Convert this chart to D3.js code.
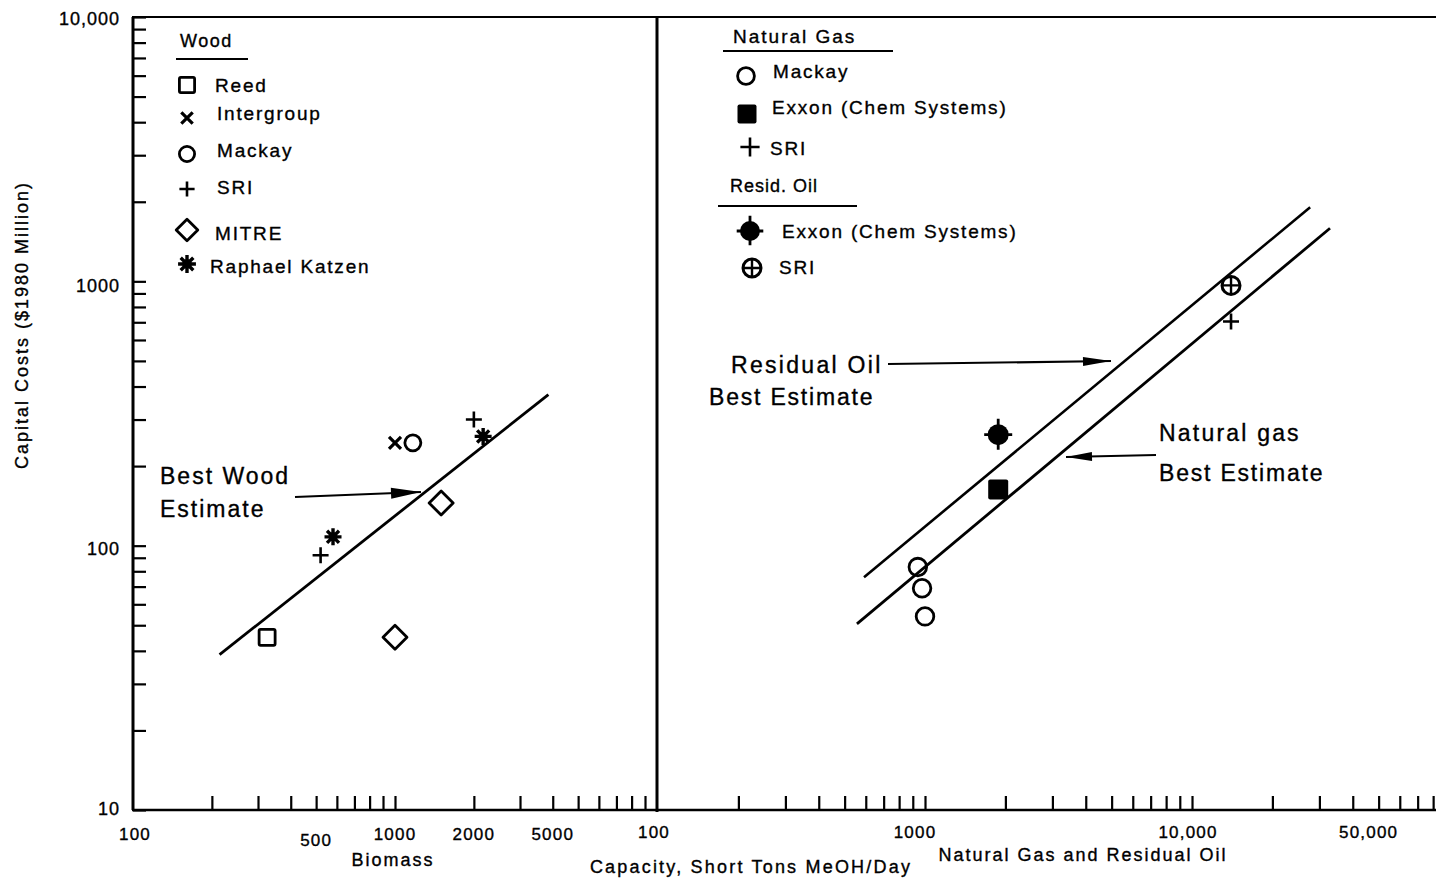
<!DOCTYPE html>
<html><head><meta charset="utf-8">
<script src="https://cdn.jsdelivr.net/npm/d3@7"></script>
<style>
body{margin:0;background:#fff}
text{font-family:"Liberation Sans",Arial,sans-serif;fill:#000;stroke:#000;stroke-width:0.35px}
</style>
</head><body>
<svg id="c" width="1436" height="881"></svg>
<script>
// ---------- data ----------
const yTickValues = [10, 100, 1000, 10000];
const yTickLabels = ["10", "100", "1000", "10,000"];
const biomassLabelValues = [100, 500, 1000, 2000, 4000];
const biomassLabels = ["100", "500", "1000", "2000", "5000"];
const gasLabelValues = [100, 1000, 10000, 50000];
const gasLabels = ["100", "1000", "10,000", "50,000"];

// Wood (biomass) estimates: [capacity, capital cost]
const woodReed = [[325, 45]];
const woodIntergroup = [[1000, 245]];
const woodMackay = [[1170, 245]];
const woodSRI = [[520, 92], [2000, 300]];
const woodMITRE = [[1500, 145], [1000, 45]];
const woodKatzen = [[580, 108], [2170, 259]];
const woodBestLine = [[214, 38.7], [3850, 373]];

// Natural gas / residual oil estimates
const gasMackay = [[940, 83], [975, 69], [1000, 54]];
const gasExxon = [[1880, 163]];
const gasSRI = [[14000, 705]];
const oilExxon = [[1880, 263]];
const oilSRI = [[14000, 965]];
const oilBestLine = [[591, 76], [27700, 1906]];
const gasBestLine = [[556, 50.6], [32870, 1588]];

// ---------- scales ----------
const svg = d3.select("#c");
const y = d3.scaleLog().domain([10, 10000]).range([810, 17]);
const xL = d3.scaleLog().domain([100, 10000]).range([133, 657]);
const xR = d3.scaleLog().domain([100, 82000]).range([658, 1436]);

function minorTicks(lo, hi) {
  const out = [];
  for (let p = lo; p < hi; p *= 10) for (let m = 1; m <= 9; m++) out.push(m * p);
  out.push(hi);
  return out;
}

// ---------- frame ----------
const frame = svg.append("g").attr("stroke", "#000").attr("fill", "none");
frame.append("line").attr("x1", 132).attr("x2", 1436).attr("y1", y(10000)).attr("y2", y(10000)).attr("stroke-width", 2.2);
frame.append("line").attr("x1", 132).attr("x2", 1436).attr("y1", y(10)).attr("y2", y(10)).attr("stroke-width", 2.6);
frame.append("line").attr("x1", 133).attr("x2", 133).attr("y1", y(10000)).attr("y2", y(10)).attr("stroke-width", 3);
frame.append("line").attr("x1", 657).attr("x2", 657).attr("y1", y(10000)).attr("y2", y(10) + 2).attr("stroke-width", 3);

// y axis ticks (inward)
const yAxis = svg.append("g").attr("transform", "translate(133,0)")
  .call(d3.axisRight(y).tickValues(minorTicks(10, 10000)).tickSize(13).tickFormat(""));
yAxis.select(".domain").remove();
yAxis.selectAll("line").attr("stroke-width", 2.2);

// x axis ticks (inward)
const xAxL = svg.append("g").attr("transform", `translate(0,${y(10)})`)
  .call(d3.axisTop(xL).tickValues(minorTicks(100, 10000).filter(v => v > 100 && v < 10000)).tickSize(14).tickFormat(""));
xAxL.select(".domain").remove();
xAxL.selectAll("line").attr("stroke-width", 2.2);
const xAxR = svg.append("g").attr("transform", `translate(0,${y(10)})`)
  .call(d3.axisTop(xR).tickValues(minorTicks(100, 100000).filter(v => v > 100 && v <= 80000)).tickSize(14).tickFormat(""));
xAxR.select(".domain").remove();
xAxR.selectAll("line").attr("stroke-width", 2.2);

// tick labels
svg.append("g").selectAll("text").data(yTickValues).join("text")
  .attr("x", 120).attr("y", (d, i) => y(d) + [-1, 3, 5, 2][i]).attr("text-anchor", "end")
  .attr("dominant-baseline", "central").attr("font-size", 18).attr("letter-spacing", 1)
  .text((d, i) => yTickLabels[i]);
svg.append("g").selectAll("text").data(biomassLabelValues).join("text")
  .attr("x", (d, i) => xL(d) + (i === 0 ? 2 : 0)).attr("y", (d, i) => i === 1 ? 840 : 834).attr("text-anchor", "middle")
  .attr("dominant-baseline", "central").attr("font-size", 17).attr("letter-spacing", 1.2)
  .text((d, i) => biomassLabels[i]);
svg.append("g").selectAll("text").data(gasLabelValues).join("text")
  .attr("x", (d, i) => xR(d) - [4, 10, 4, 10][i]).attr("y", 832).attr("text-anchor", "middle")
  .attr("dominant-baseline", "central").attr("font-size", 17).attr("letter-spacing", 1.2)
  .text((d, i) => gasLabels[i]);

// axis titles
svg.append("text").attr("transform", "translate(22,325) rotate(-90)").attr("text-anchor", "middle")
  .attr("dominant-baseline", "central").attr("font-size", 18).attr("letter-spacing", 2)
  .text("Capital Costs ($1980 Million)");
svg.append("text").attr("x", 393).attr("y", 860).attr("text-anchor", "middle")
  .attr("dominant-baseline", "central").attr("font-size", 18).attr("letter-spacing", 2).text("Biomass");
svg.append("text").attr("x", 751).attr("y", 867).attr("text-anchor", "middle")
  .attr("dominant-baseline", "central").attr("font-size", 18).attr("letter-spacing", 2.2).text("Capacity, Short Tons MeOH/Day");
svg.append("text").attr("x", 1083).attr("y", 855).attr("text-anchor", "middle")
  .attr("dominant-baseline", "central").attr("font-size", 18).attr("letter-spacing", 2).text("Natural Gas and Residual Oil");

// ---------- markers ----------
function drawMarker(g, type, s) {
  s = s || 1;
  const sw = 2.8;
  if (type === "openSquare") {
    g.append("rect").attr("x", -8 * s).attr("y", -8 * s).attr("width", 16 * s).attr("height", 16 * s)
      .attr("rx", 1.5).attr("fill", "none").attr("stroke", "#000").attr("stroke-width", sw);
  } else if (type === "x") {
    g.append("path").attr("d", `M${-6*s},${-6*s}L${6*s},${6*s}M${-6*s},${6*s}L${6*s},${-6*s}`)
      .attr("stroke", "#000").attr("stroke-width", 3.2);
  } else if (type === "openCircle") {
    g.append("circle").attr("r", 8 * s).attr("fill", "none").attr("stroke", "#000").attr("stroke-width", sw);
  } else if (type === "plus") {
    g.append("path").attr("d", `M${-8*s},0L${8*s},0M0,${-8*s}L0,${8*s}`)
      .attr("stroke", "#000").attr("stroke-width", 2.6);
  } else if (type === "diamond") {
    g.append("path").attr("d", `M0,${-12*s}L${12*s},0L0,${12*s}L${-12*s},0Z`)
      .attr("fill", "none").attr("stroke", "#000").attr("stroke-width", sw).attr("stroke-linejoin", "round");
  } else if (type === "asterisk") {
    let d = "";
    for (let k = 0; k < 4; k++) {
      const a = k * Math.PI / 4;
      d += `M${-8.5*s*Math.cos(a)},${-8.5*s*Math.sin(a)}L${8.5*s*Math.cos(a)},${8.5*s*Math.sin(a)}`;
    }
    g.append("path").attr("d", d).attr("stroke", "#000").attr("stroke-width", 3.4);
    g.append("circle").attr("r", 4.5 * s).attr("fill", "#000");
  } else if (type === "filledSquare") {
    g.append("rect").attr("x", -10 * s).attr("y", -10 * s).attr("width", 20 * s).attr("height", 20 * s)
      .attr("rx", 2).attr("fill", "#000");
  } else if (type === "blob") {
    g.append("path").attr("d", `M${-14*s},0L${14*s},0M0,${-16*s}L0,${15*s}`)
      .attr("stroke", "#000").attr("stroke-width", 2.8);
    g.append("circle").attr("r", 10.5 * s).attr("fill", "#000");
  } else if (type === "circlePlus") {
    g.append("circle").attr("r", 9 * s).attr("fill", "none").attr("stroke", "#000").attr("stroke-width", 3);
    g.append("path").attr("d", `M${-9*s},0L${9*s},0M0,${-9*s}L0,${9*s}`)
      .attr("stroke", "#000").attr("stroke-width", 2.4);
  }
}

function plotSeries(data, xs, type, s) {
  data.forEach(d => {
    const g = svg.append("g").attr("transform", `translate(${xs(d[0])},${y(d[1])})`);
    drawMarker(g, type, s);
  });
}

// best-estimate lines
const line = xs => d3.line().x(d => xs(d[0])).y(d => y(d[1]));
svg.append("path").datum(woodBestLine).attr("d", line(xL)).attr("stroke", "#000").attr("stroke-width", 2.8).attr("fill", "none");
svg.append("path").datum(oilBestLine).attr("d", line(xR)).attr("stroke", "#000").attr("stroke-width", 2.6).attr("fill", "none");
svg.append("path").datum(gasBestLine).attr("d", line(xR)).attr("stroke", "#000").attr("stroke-width", 2.8).attr("fill", "none");

plotSeries(woodReed, xL, "openSquare");
plotSeries(woodIntergroup, xL, "x");
plotSeries(woodMackay, xL, "openCircle");
plotSeries(woodSRI, xL, "plus");
plotSeries(woodMITRE, xL, "diamond");
plotSeries(woodKatzen, xL, "asterisk");
plotSeries(gasMackay, xR, "openCircle", 1.1);
plotSeries(gasExxon, xR, "filledSquare");
plotSeries(gasSRI, xR, "plus");
plotSeries(oilExxon, xR, "blob");
plotSeries(oilSRI, xR, "circlePlus");

// ---------- legends ----------
function legendText(x, yy, t, fs, ls) {
  svg.append("text").attr("x", x).attr("y", yy).attr("dominant-baseline", "central")
    .attr("font-size", fs || 19).attr("letter-spacing", ls === undefined ? 1.8 : ls).text(t);
}
function legendMark(x, yy, type, s) {
  drawMarker(svg.append("g").attr("transform", `translate(${x},${yy})`), type, s);
}
function rule(x1, x2, yy) {
  svg.append("line").attr("x1", x1).attr("x2", x2).attr("y1", yy).attr("y2", yy)
    .attr("stroke", "#000").attr("stroke-width", 2.2);
}

// wood legend
legendText(180, 41, "Wood", 18, 1.5); rule(176, 248, 59);
const woodLegend = [["openSquare", "Reed", 85, 215, 85], ["x", "Intergroup", 118, 217, 113],
  ["openCircle", "Mackay", 154, 217, 150], ["plus", "SRI", 189, 217, 187],
  ["diamond", "MITRE", 230, 215, 233], ["asterisk", "Raphael Katzen", 264, 210, 266]];
woodLegend.forEach(r => {
  legendMark(187, r[2], r[0], r[0] === "diamond" ? 0.9 : (r[0] === "asterisk" ? 1.05 : 0.95));
  legendText(r[3], r[4], r[1]);
});

// gas / oil legend
legendText(733, 36, "Natural Gas", 19, 2); rule(723, 893, 51);
legendMark(746, 76, "openCircle", 1.05); legendText(773, 71, "Mackay");
legendMark(747, 114, "filledSquare", 0.95); legendText(772, 107, "Exxon (Chem Systems)");
legendMark(750, 147, "plus", 1.2); legendText(770, 148, "SRI");
legendText(730, 186, "Resid. Oil", 18, 1); rule(718, 857, 206);
legendMark(750, 231, "blob", 0.95); legendText(782, 231, "Exxon (Chem Systems)");
legendMark(752, 268, "circlePlus", 1.0); legendText(779, 267, "SRI");

// ---------- annotations ----------
function annText(x, yy, t, fs, ls) {
  svg.append("text").attr("x", x).attr("y", yy).attr("dominant-baseline", "central")
    .attr("font-size", fs).attr("letter-spacing", ls).text(t);
}
annText(160, 476, "Best Wood", 23, 2);
annText(160, 509, "Estimate", 23, 2);
annText(731, 365, "Residual Oil", 23, 2.3);
annText(709, 397, "Best  Estimate", 23, 1.8);
annText(1159, 433, "Natural gas", 23, 2.2);
annText(1159, 473, "Best Estimate", 23, 1.8);

function arrow(x1, y1, x2, y2, headLen, headW) {
  svg.append("line").attr("x1", x1).attr("y1", y1).attr("x2", x2).attr("y2", y2)
    .attr("stroke", "#000").attr("stroke-width", 2.2);
  const a = Math.atan2(y2 - y1, x2 - x1);
  const bx = x2 - headLen * Math.cos(a), by = y2 - headLen * Math.sin(a);
  const px = -Math.sin(a) * headW / 2, py = Math.cos(a) * headW / 2;
  svg.append("path").attr("d", `M${x2},${y2}L${bx + px},${by + py}L${bx - px},${by - py}Z`).attr("fill", "#000");
}
arrow(295, 497, 421, 492, 30, 11);
arrow(888, 364, 1111, 361, 28, 9);
arrow(1156, 455, 1066, 457, 26, 9);
</script>
</body></html>
